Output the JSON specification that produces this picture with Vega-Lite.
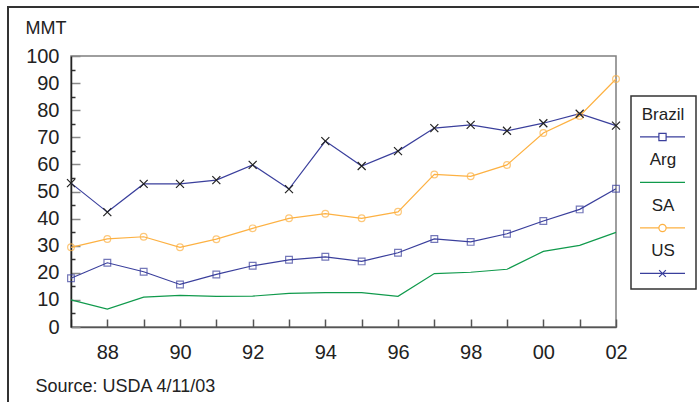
{
  "$schema": "https://vega.github.io/schema/vega-lite/v6.json",
  "width": 545,
  "height": 271,
  "autosize": "none",
  "padding": {"left": 71, "top": 56, "right": 83, "bottom": 75},
  "background": "white",
  "config": {
    "font": "Liberation Sans",
    "view": {"stroke": "#7f7f7f", "strokeWidth": 1.5}
  },
  "data": {
    "values": [
      {"year": 1987, "series": "Brazil", "mmt": 18.0},
      {"year": 1988, "series": "Brazil", "mmt": 23.7},
      {"year": 1989, "series": "Brazil", "mmt": 20.4},
      {"year": 1990, "series": "Brazil", "mmt": 15.7},
      {"year": 1991, "series": "Brazil", "mmt": 19.4},
      {"year": 1992, "series": "Brazil", "mmt": 22.6},
      {"year": 1993, "series": "Brazil", "mmt": 24.8},
      {"year": 1994, "series": "Brazil", "mmt": 25.9},
      {"year": 1995, "series": "Brazil", "mmt": 24.2},
      {"year": 1996, "series": "Brazil", "mmt": 27.4},
      {"year": 1997, "series": "Brazil", "mmt": 32.5},
      {"year": 1998, "series": "Brazil", "mmt": 31.4},
      {"year": 1999, "series": "Brazil", "mmt": 34.4},
      {"year": 2000, "series": "Brazil", "mmt": 39.1},
      {"year": 2001, "series": "Brazil", "mmt": 43.4},
      {"year": 2002, "series": "Brazil", "mmt": 51.0},
      {"year": 1987, "series": "Arg", "mmt": 10.0},
      {"year": 1988, "series": "Arg", "mmt": 6.6},
      {"year": 1989, "series": "Arg", "mmt": 11.0},
      {"year": 1990, "series": "Arg", "mmt": 11.7},
      {"year": 1991, "series": "Arg", "mmt": 11.3},
      {"year": 1992, "series": "Arg", "mmt": 11.4},
      {"year": 1993, "series": "Arg", "mmt": 12.4},
      {"year": 1994, "series": "Arg", "mmt": 12.7},
      {"year": 1995, "series": "Arg", "mmt": 12.7},
      {"year": 1996, "series": "Arg", "mmt": 11.3},
      {"year": 1997, "series": "Arg", "mmt": 19.7},
      {"year": 1998, "series": "Arg", "mmt": 20.2},
      {"year": 1999, "series": "Arg", "mmt": 21.3},
      {"year": 2000, "series": "Arg", "mmt": 27.9},
      {"year": 2001, "series": "Arg", "mmt": 30.1},
      {"year": 2002, "series": "Arg", "mmt": 34.9},
      {"year": 1987, "series": "SA", "mmt": 29.4},
      {"year": 1988, "series": "SA", "mmt": 32.5},
      {"year": 1989, "series": "SA", "mmt": 33.3},
      {"year": 1990, "series": "SA", "mmt": 29.4},
      {"year": 1991, "series": "SA", "mmt": 32.4},
      {"year": 1992, "series": "SA", "mmt": 36.4},
      {"year": 1993, "series": "SA", "mmt": 40.1},
      {"year": 1994, "series": "SA", "mmt": 41.8},
      {"year": 1995, "series": "SA", "mmt": 40.1},
      {"year": 1996, "series": "SA", "mmt": 42.5},
      {"year": 1997, "series": "SA", "mmt": 56.3},
      {"year": 1998, "series": "SA", "mmt": 55.6},
      {"year": 1999, "series": "SA", "mmt": 59.8},
      {"year": 2000, "series": "SA", "mmt": 71.6},
      {"year": 2001, "series": "SA", "mmt": 77.9},
      {"year": 2002, "series": "SA", "mmt": 91.5},
      {"year": 1987, "series": "US", "mmt": 53.1},
      {"year": 1988, "series": "US", "mmt": 42.4},
      {"year": 1989, "series": "US", "mmt": 52.8},
      {"year": 1990, "series": "US", "mmt": 52.8},
      {"year": 1991, "series": "US", "mmt": 54.2},
      {"year": 1992, "series": "US", "mmt": 59.8},
      {"year": 1993, "series": "US", "mmt": 50.9},
      {"year": 1994, "series": "US", "mmt": 68.6},
      {"year": 1995, "series": "US", "mmt": 59.4},
      {"year": 1996, "series": "US", "mmt": 64.9},
      {"year": 1997, "series": "US", "mmt": 73.4},
      {"year": 1998, "series": "US", "mmt": 74.6},
      {"year": 1999, "series": "US", "mmt": 72.4},
      {"year": 2000, "series": "US", "mmt": 75.2},
      {"year": 2001, "series": "US", "mmt": 78.7},
      {"year": 2002, "series": "US", "mmt": 74.3}
    ]
  },
  "encoding": {
    "x": {
      "field": "year",
      "type": "quantitative",
      "scale": {"domain": [1987, 2002], "nice": false, "zero": false},
      "axis": {
        "title": "Source: USDA 4/11/03",
        "titleFontSize": 18,
        "titleFontWeight": "normal",
        "titleColor": "#222222",
        "titleAnchor": "start",
        "titleAlign": "left",
        "titleBaseline": "alphabetic",
        "titleX": -36,
        "titleY": 64,
        "grid": false,
        "values": [1987, 1988, 1989, 1990, 1991, 1992, 1993, 1994, 1995, 1996, 1997, 1998, 1999, 2000, 2001, 2002],
        "labelExpr": "datum.value % 2 == 0 ? substring(toString(datum.value), 2) : ''",
        "labelFontSize": 20,
        "labelColor": "#222222",
        "labelPadding": 23,
        "labelFlush": false,
        "tickSize": -8,
        "tickColor": "#555555",
        "tickWidth": 1.5,
        "domainColor": "#555555",
        "domainWidth": 1.5
      }
    },
    "y": {
      "field": "mmt",
      "type": "quantitative",
      "scale": {"domain": [0, 100], "nice": false},
      "axis": {
        "title": "MMT",
        "titleAngle": 0,
        "titleAlign": "left",
        "titleBaseline": "alphabetic",
        "titleX": -46,
        "titleY": -23,
        "titleFontSize": 18,
        "titleFontWeight": "normal",
        "titleColor": "#222222",
        "grid": false,
        "values": [0, 5, 10, 15, 20, 25, 30, 35, 40, 45, 50, 55, 60, 65, 70, 75, 80, 85, 90, 95, 100],
        "labelExpr": "datum.value % 10 == 0 ? datum.value : ''",
        "labelFontSize": 20,
        "labelColor": "#222222",
        "labelPadding": 21,
        "labelFlush": false,
        "tickSize": {"condition": {"test": "datum.value % 10 != 0", "value": -4}, "value": -9},
        "tickColor": {"condition": {"test": "datum.value % 10 != 0", "value": "#333333"}, "value": "#8a8a8a"},
        "tickWidth": 1.5,
        "domainColor": "#222222",
        "domainWidth": 1.5
      }
    }
  },
  "layer": [
    {
      "mark": {"type": "rect", "fill": null, "stroke": "#333333", "strokeWidth": 1.5, "clip": false},
      "encoding": {
        "x": {"datum": 1985.27},
        "x2": {"datum": 2006},
        "y": {"datum": 118.2},
        "y2": {"datum": -40}
      }
    },
    {
      "mark": {"type": "line", "strokeWidth": 1.2},
      "encoding": {
        "color": {
          "field": "series",
          "type": "nominal",
          "scale": {
            "domain": ["Brazil", "Arg", "SA", "US"],
            "range": ["#3a3f9c", "#109a4c", "#fdb142", "#3a3f9c"]
          },
          "legend": {
            "title": null,
            "orient": "none",
            "legendX": 560,
            "legendY": 40,
            "direction": "vertical",
            "padding": 8,
            "strokeColor": "#333333",
            "fillColor": "white",
            "symbolSize": 2025,
            "symbolStrokeWidth": 1.2,
            "labelFontSize": 17,
            "labelColor": "#222222",
            "labelAlign": "center",
            "labelOffset": -23,
            "rowPadding": 5.5,
            "encode": {
              "legend": {"update": {"strokeWidth": {"value": 1.5}}},
              "labels": {"update": {"dy": {"value": -13}}},
              "symbols": {
                "update": {
                  "fill": {"value": "transparent"},
                  "shape": {
                    "signal": "datum.value == 'Brazil' ? 'M0,0.22M0,0.62M-1,0.42H-0.16M0.16,0.42H1M-0.16,0.26H0.16V0.58H-0.16Z' : datum.value == 'SA' ? 'M0,0.22M0,0.62M-1,0.42H-0.16M0.16,0.42H1M-0.16,0.42A0.16,0.16 0 1,0 0.16,0.42A0.16,0.16 0 1,0 -0.16,0.42' : datum.value == 'US' ? 'M0,0.22M0,0.62M-1,0.42H1M-0.15,0.27L0.15,0.57M-0.15,0.57L0.15,0.27' : 'M0,0.22M0,0.62M-1,0.42H1'"
                  }
                }
              }
            }
          }
        }
      }
    },
    {
      "transform": [{"filter": "datum.series == 'Brazil'"}],
      "mark": {"type": "point", "shape": "square", "filled": false, "size": 45, "strokeWidth": 1.2},
      "encoding": {"color": {"field": "series", "type": "nominal", "legend": null}}
    },
    {
      "transform": [{"filter": "datum.series == 'SA'"}],
      "mark": {"type": "point", "shape": "circle", "filled": false, "size": 45, "strokeWidth": 1.2},
      "encoding": {"color": {"field": "series", "type": "nominal", "legend": null}}
    },
    {
      "transform": [{"filter": "datum.series == 'US'"}],
      "mark": {"type": "point", "shape": "M-1,-1L1,1M-1,1L1,-1", "filled": false, "size": 64, "strokeWidth": 1.2, "color": "#222222", "opacity": 1}
    }
  ]
}
